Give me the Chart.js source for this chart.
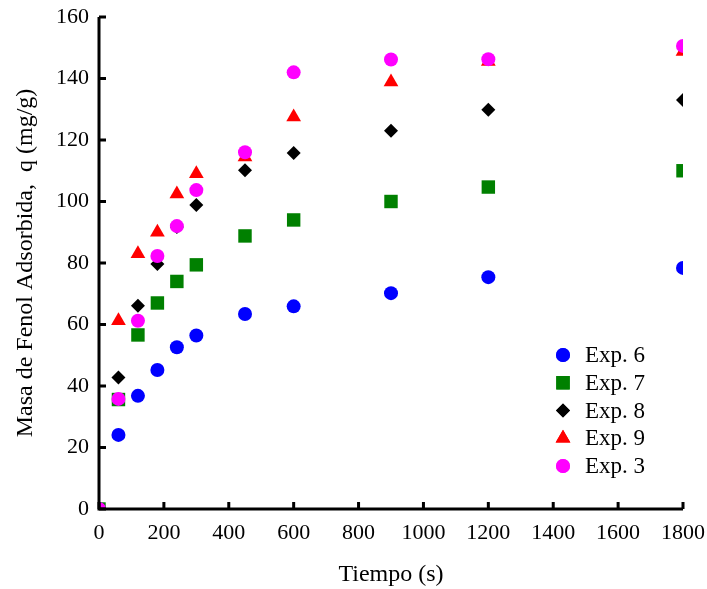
<!DOCTYPE html>
<html>
<head>
<meta charset="utf-8">
<script src="https://cdn.jsdelivr.net/npm/chart.js@4.4.1/dist/chart.umd.min.js"></script>
<style>
  html, body { margin: 0; padding: 0; background: #fff; }
  #wrap { width: 707px; height: 589px; }
</style>
</head>
<body>
<div id="wrap"><canvas id="kinChart" width="707" height="589"></canvas></div>
<script>
// Tiempo (s)
const tiempo = [0, 60, 120, 180, 240, 300, 450, 600, 900, 1200, 1800];

// q (mg/g) por experimento
const exp6 = [0, 24.1, 36.8, 45.2, 52.6, 56.4, 63.4, 65.9, 70.2, 75.4, 78.4];
const exp7 = [0, 35.6, 56.6, 67.0, 74.0, 79.4, 88.8, 94.0, 100.0, 104.7, 110.0];
const exp8 = [0, 42.8, 66.1, 79.7, 91.7, 98.9, 110.2, 115.8, 123.0, 129.8, 133.0];
const exp9 = [0, 61.2, 83.0, 90.0, 102.4, 109.0, 114.5, 127.5, 138.9, 145.5, 148.8];
const exp3 = [0, 35.8, 61.2, 82.3, 92.0, 103.7, 116.0, 142.0, 146.2, 146.3, 150.6];

const xTicks = [0, 200, 400, 600, 800, 1000, 1200, 1400, 1600, 1800];
const yTicks = [0, 20, 40, 60, 80, 100, 120, 140, 160];

const FONT = "'Liberation Serif', 'Times New Roman', serif";

function pts(ys) {
    return tiempo.map((t, i) => ({ x: t, y: ys[i] }));
}

function serie(label, ys, color, style, radius, order) {
    return {
        label: label,
        data: pts(ys),
        backgroundColor: color,
        borderColor: color,
        borderWidth: 0,
        pointStyle: style,
        pointRadius: radius,
        pointHoverRadius: radius,
        clip: 0,
        order: order
    };
}

const datasets = [
    serie('Exp. 6', exp6, '#0000ff', 'circle', 7, 4),
    serie('Exp. 7', exp7, '#008000', 'rect', 9.5, 3),
    serie('Exp. 8', exp8, '#000000', 'rectRot', 7, 2),
    serie('Exp. 9', exp9, '#ff0000', 'triangle', 8.5, 1),
    serie('Exp. 3', exp3, '#ff00ff', 'circle', 7, 0)
];

// axes drawn by hand: thick lines with inward ticks, plus legend inside the plot
const axesPlugin = {
    id: 'axesPlugin',
    afterDatasetsDraw(chart) {
        const ctx = chart.ctx;
        const a = chart.chartArea;
        const xs = chart.scales.x, ys = chart.scales.y;
        ctx.save();
        ctx.strokeStyle = '#000';
        ctx.lineWidth = 3;
        ctx.beginPath();
        ctx.moveTo(a.left, a.top);
        ctx.lineTo(a.left, a.bottom);
        ctx.lineTo(a.right, a.bottom);
        ctx.stroke();
        ctx.beginPath();
        xTicks.forEach(v => {
            const px = xs.getPixelForValue(v);
            ctx.moveTo(px, a.bottom);
            ctx.lineTo(px, a.bottom - 7);
        });
        yTicks.forEach(v => {
            const py = ys.getPixelForValue(v);
            ctx.moveTo(a.left, py);
            ctx.lineTo(a.left + 7, py);
        });
        ctx.stroke();

        const lx = 563, tx = 585;
        let ly = 355;
        ctx.font = '23px ' + FONT;
        ctx.textBaseline = 'middle';
        ctx.textAlign = 'left';
        chart.data.datasets.forEach(d => {
            ctx.fillStyle = d.backgroundColor;
            Chart.helpers.drawPoint(ctx, {
                pointStyle: d.pointStyle,
                radius: d.pointRadius,
                borderWidth: 0,
                rotation: 0
            }, lx, ly);
            ctx.fill();
            ctx.fillStyle = '#000';
            ctx.fillText(d.label, tx, ly + 1);
            ly += 27.75;
        });
        ctx.restore();
    }
};

new Chart(document.getElementById('kinChart').getContext('2d'), {
    type: 'scatter',
    data: { datasets: datasets },
    options: {
        responsive: false,
        animation: false,
        events: [],
        layout: { padding: { top: 17, right: 24, left: 0, bottom: 0 } },
        plugins: {
            legend: { display: false },
            tooltip: { enabled: false }
        },
        scales: {
            x: {
                type: 'linear',
                min: 0,
                max: 1800,
                afterBuildTicks: s => { s.ticks = xTicks.map(v => ({ value: v })); },
                afterFit: s => { s.height = 80; s.paddingLeft = 0; s.paddingRight = 0; },
                grid: { display: false, drawTicks: false },
                border: { display: false },
                ticks: {
                    color: '#000',
                    padding: 11,
                    maxRotation: 0,
                    callback: v => String(v),
                    font: { family: FONT, size: 22 }
                },
                title: {
                    display: true,
                    text: 'Tiempo (s)',
                    color: '#000',
                    font: { family: FONT, size: 24 },
                    padding: { top: 0, bottom: 0 }
                }
            },
            y: {
                min: 0,
                max: 160,
                afterBuildTicks: s => { s.ticks = yTicks.map(v => ({ value: v })); },
                afterFit: s => { s.width = 99; s.paddingTop = 0; s.paddingBottom = 0; },
                grid: { display: false, drawTicks: false },
                border: { display: false },
                ticks: {
                    color: '#000',
                    padding: 10,
                    callback: v => String(v),
                    font: { family: FONT, size: 22 }
                },
                title: {
                    display: true,
                    text: 'Masa de Fenol Adsorbida,  q (mg/g)',
                    color: '#000',
                    font: { family: FONT, size: 24 },
                    padding: { top: 11, bottom: 0 }
                }
            }
        }
    },
    plugins: [axesPlugin]
});
</script>
</body>
</html>
